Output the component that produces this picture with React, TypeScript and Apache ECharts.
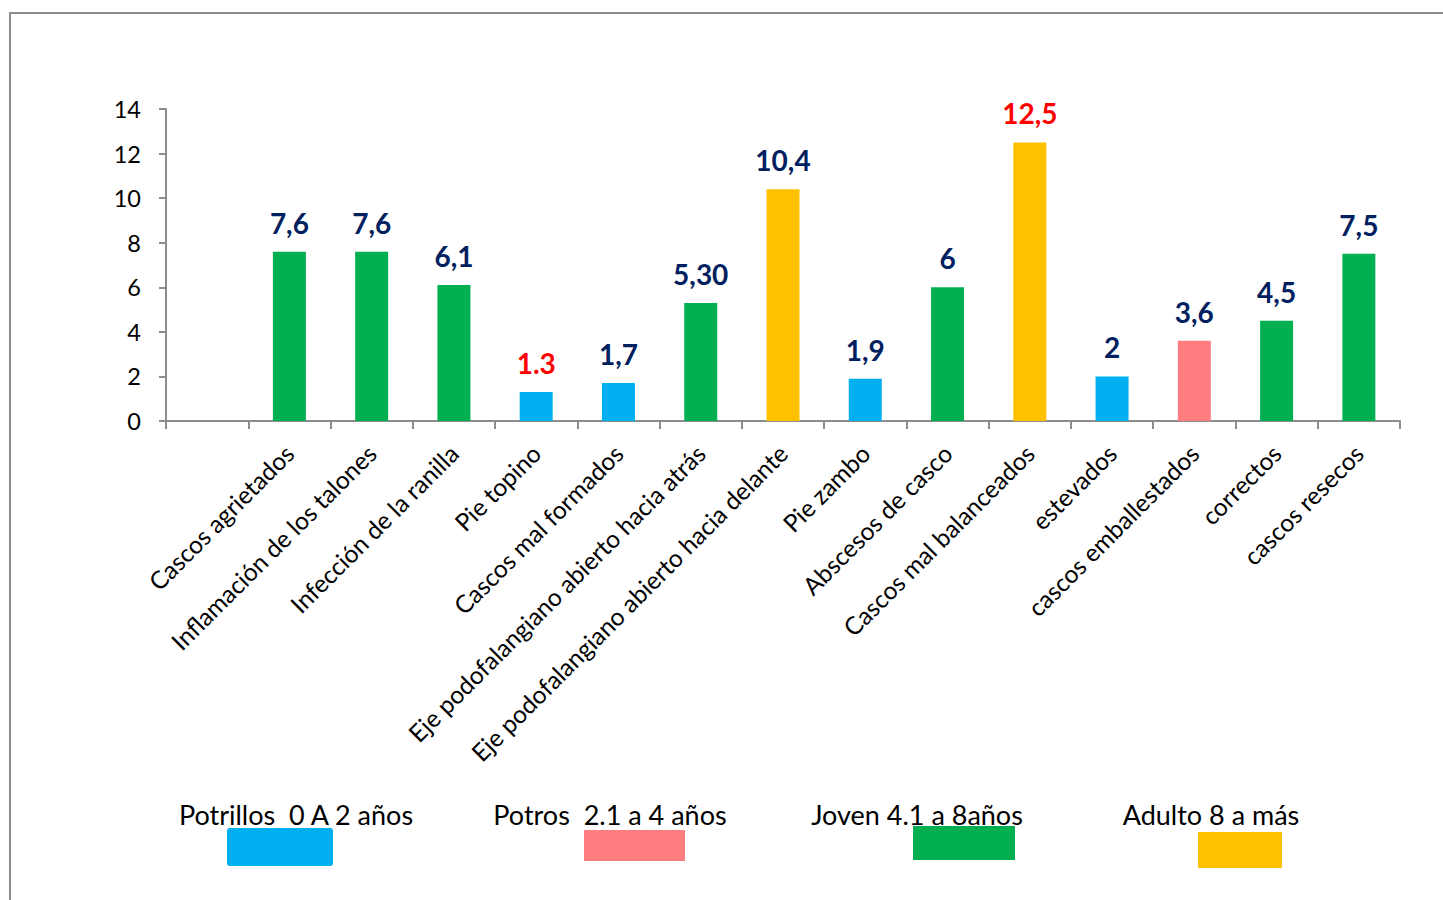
import React, { useEffect, useRef } from "react";
import * as echarts from "echarts";

const categories = [
  "",
  "Cascos agrietados",
  "Inflamación de los talones",
  "Infección de la ranilla",
  "Pie topino",
  "Cascos mal formados",
  "Eje podofalangiano abierto hacia atrás",
  "Eje podofalangiano abierto hacia delante",
  "Pie zambo",
  "Abscesos de casco",
  "Cascos mal balanceados",
  "estevados",
  "cascos emballestados",
  "correctos",
  "cascos resecos",
];
const values = [null, 7.6, 7.6, 6.1, 1.3, 1.7, 5.3, 10.4, 1.9, 6, 12.5, 2, 3.6, 4.5, 7.5];
const valueLabels = ["", "7,6", "7,6", "6,1", "1.3", "1,7", "5,30", "10,4", "1,9", "6", "12,5", "2", "3,6", "4,5", "7,5"];
// group index: 0 Potrillos, 1 Potros, 2 Joven, 3 Adulto
const groups = [-1, 2, 2, 2, 0, 0, 2, 3, 0, 2, 3, 0, 1, 2, 2];
const redLabels = [false, false, false, false, true, false, false, false, false, false, true, false, false, false, false];
const legendNames = ["Potrillos  0 A 2 años", "Potros  2.1 a 4 años", "Joven 4.1 a 8años", "Adulto 8 a más"];
const groupColors = ["#00B0F0", "#FF7C80", "#00B050", "#FFC000"];
const yTicks = { min: 0, max: 14, interval: 2 };

const FONT = "Lato";

export default function App() {
  const ref = useRef<HTMLDivElement>(null);
  useEffect(() => {
    if (!ref.current) return;
    const chart = echarts.init(ref.current, null, { renderer: "svg" });
    const legendText = [
      { x: 296, y: 814 },
      { x: 610, y: 814 },
      { x: 917, y: 814 },
      { x: 1211, y: 814 },
    ];
    const legendRects = [
      { x: 227, y: 828, w: 106, h: 38, r: 3 },
      { x: 584, y: 830, w: 101, h: 31, r: 0 },
      { x: 913, y: 826, w: 102, h: 34, r: 0 },
      { x: 1198, y: 832, w: 84, h: 36, r: 0 },
    ];
    const graphic: any[] = [
      {
        type: "rect",
        shape: { x: 10, y: 13, width: 1480, height: 950 },
        style: { fill: "none", stroke: "#8c8c8c", lineWidth: 2 },
        silent: true,
      },
    ];
    legendNames.forEach((n, i) => {
      graphic.push({
        type: "text",
        x: legendText[i].x,
        y: legendText[i].y,
        style: {
          text: n,
          fill: "#000",
          font: `27px ${FONT}`,
          textAlign: "center",
          textVerticalAlign: "middle",
        },
      });
      graphic.push({
        type: "rect",
        shape: { x: legendRects[i].x, y: legendRects[i].y, width: legendRects[i].w, height: legendRects[i].h, r: legendRects[i].r },
        style: { fill: groupColors[i] },
      });
    });

    chart.setOption({
      animation: false,
      textStyle: { fontFamily: FONT },
      grid: { left: 166, right: 43, top: 109, bottom: 479, containLabel: false },
      xAxis: {
        type: "category",
        data: categories,
        axisLine: { lineStyle: { color: "#8c8c8c", width: 2 } },
        axisTick: { show: true, length: 8, lineStyle: { color: "#8c8c8c", width: 2 } },
        axisLabel: {
          interval: 0,
          rotate: 45,
          fontSize: 24.5,
          color: "#000",
          fontFamily: FONT,
          margin: 28,
        },
      },
      yAxis: {
        type: "value",
        min: yTicks.min,
        max: yTicks.max,
        interval: yTicks.interval,
        splitLine: { show: false },
        axisLine: { show: true, lineStyle: { color: "#8c8c8c", width: 2 } },
        axisTick: { show: true, length: 7, lineStyle: { color: "#8c8c8c", width: 2 } },
        axisLabel: { fontSize: 23.5, color: "#000", fontFamily: FONT, margin: 25 },
      },
      series: [
        {
          type: "bar",
          barWidth: 33,
          data: values.map((v, i) => ({
            value: v,
            itemStyle: { color: groups[i] >= 0 ? groupColors[groups[i]] : "transparent" },
            label: { color: redLabels[i] ? "#FF0000" : "#002060" },
          })),
          label: {
            show: true,
            position: "top",
            distance: 15,
            fontSize: 28,
            fontWeight: "bold",
            fontFamily: FONT,
            formatter: (p: any) => valueLabels[p.dataIndex],
          },
        },
      ],
      graphic,
    });
    return () => chart.dispose();
  }, []);
  return <div ref={ref} style={{ position: "fixed", left: 0, top: 0, width: 1443, height: 900, background: "#fff" }} />;
}
